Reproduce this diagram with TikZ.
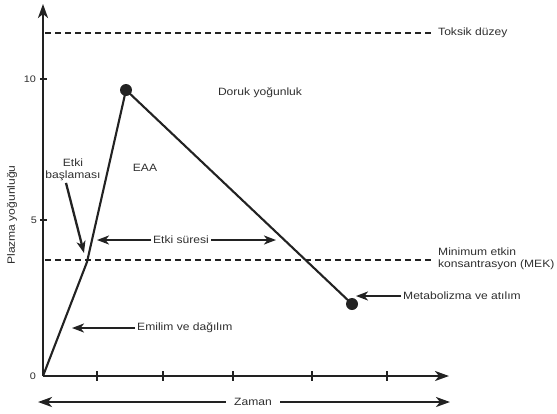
\documentclass[tikz,border=0pt]{standalone}
\usepackage{fontspec}
\setmainfont{Liberation Sans}[FakeStretch=1.14]
\usetikzlibrary{arrows.meta}
\definecolor{ink}{HTML}{222222}
\definecolor{txt}{HTML}{2e2e2e}
\begin{document}
\begin{tikzpicture}[x=1pt,y=-1pt,
  ax/.style={line width=2.3pt,draw=ink,-{Stealth[length=14pt,width=10pt,inset=4pt]}},
  arr/.style={line width=2.3pt,draw=ink,-{Stealth[length=12pt,width=9pt,inset=3.5pt]}},
  curve/.style={line width=2.1pt,draw=ink,line join=round},
  dsh/.style={line width=1.7pt,draw=ink,dash pattern=on 6pt off 4pt},
  lbl/.style={text=txt,font=\fontsize{10.6}{13}\selectfont,inner sep=2pt},
  num/.style={text=txt,font=\fontsize{9.5}{11}\selectfont,inner sep=1pt},
  dotn/.style={circle,fill=ink,minimum size=12pt,inner sep=0pt}]
\useasboundingbox (0,0) rectangle (557,413);
% axes
\coordinate (O) at (43,376);
\coordinate (ytip) at (43,4);
\coordinate (xtip) at (449,376);
\draw[ax] (O) -- (ytip);
\draw[ax] (O) -- (xtip);
% ticks
\foreach \t in {97,163,233,312,387} \draw[line width=1.6pt,ink] (\t,371) -- (\t,381);
\foreach \t in {79,220} \draw[line width=1.6pt,ink] (40,\t) -- (47,\t);
\node[num,anchor=east] (n10) at (37,79) {10};
\node[num,anchor=east] (n5) at (38,220) {5};
\node[num,anchor=east] (n0) at (37,376) {0};
% dashed levels
\coordinate (tA) at (45,33); \coordinate (tB) at (432,33);
\draw[dsh] (tA) -- (tB);
\coordinate (mA) at (45,260); \coordinate (mB) at (432,260);
\draw[dsh] (mA) -- (mB);
\node[lbl,anchor=west] (tox) at (436,33) {Toksik düzey};
\node[lbl,anchor=west,align=left,font=\fontsize{10.6}{12.5}\selectfont] (mek) at (436,259) {Minimum etkin\\konsantrasyon (MEK)};
% curve
\coordinate (bend) at (87,262);
\node[dotn] (pk) at (126,90) {};
\node[dotn] (en) at (352,304) {};
\draw[curve] (O) -- (bend) -- (pk.center) -- (en.center);
% labels
\node[lbl] (dor) at (260,93) {Doruk yoğunluk};
\node[lbl] (eaa) at (145,168) {EAA};
\node[lbl,align=center,font=\fontsize{10.6}{11.5}\selectfont] (eb) at (73,170) {Etki\\başlaması};
\coordinate (ebT) at (84,253);
\draw[arr] (eb.south) ++(-7,0) coordinate (ebS) (ebS) -- (ebT);
\node[lbl] (es) at (181,240) {Etki süresi};
\coordinate (esL) at (97,240); \coordinate (esR) at (276,240);
\draw[arr] (es.west) -- (esL);
\draw[arr] (es.east) -- (esR);
\node[lbl,anchor=west] (em) at (135,328) {Emilim ve dağılım};
\coordinate (emT) at (72,328);
\draw[arr] (em.west) -- (emT);
\node[lbl,anchor=west] (met) at (401,296) {Metabolizma ve atılım};
\coordinate (metT) at (356,296);
\draw[arr] (met.west) -- (metT);
\node[lbl] (za) at (253,402) {Zaman};
\coordinate (zaL) at (38,402); \coordinate (zaR) at (450,402);
\draw[ax] (za.west) ++(-6,0) coordinate (zaW) (zaW) -- (zaL);
\draw[ax] (za.east) ++(6,0) coordinate (zaE) (zaE) -- (zaR);
\node[lbl,rotate=90] (pl) at (12,215) {Plazma yoğunluğu};
\end{tikzpicture}
\end{document}
